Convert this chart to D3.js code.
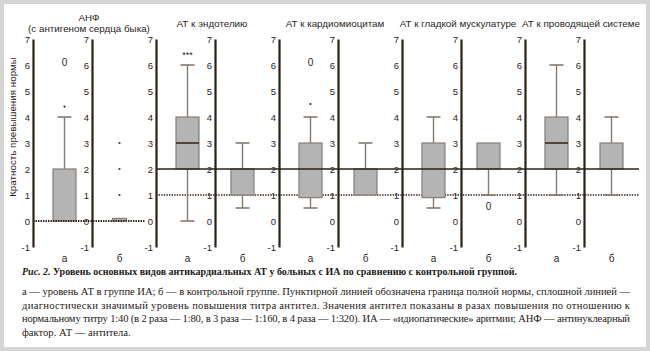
<!DOCTYPE html>
<html><head><meta charset="utf-8">
<script src="https://cdn.jsdelivr.net/npm/d3@7/dist/d3.min.js"></script>
<style>
body{margin:0;background:#fff;}
svg{display:block;}
</style></head>
<body>
<svg id="c" width="650" height="351"></svg>
<script>
// ---- data ----
const panelTitles = [["АНФ","(с антигеном сердца быка)"],["АТ к эндотелию"],["АТ к кардиомиоцитам"],["АТ к гладкой мускулатуре"],["АТ к проводящей системе"]];
const groups = ["а","б"];
const whiskerLow  = [[null,null],[0,0.5],[0.5,null],[0.5,1],[1,1]];
const q1          = [[0,0],[2,1],[0.9,1],[0.9,2],[2,2]];
const median      = [[null,null],[3,null],[null,null],[null,null],[3,null]];
const q3          = [[2,0.1],[4,2],[3,2],[3,3],[4,3]];
const whiskerHigh = [[4,null],[6,3],[4,3],[4,null],[6,4]];
const outlierPanel = [0,0,0,0,2];
const outlierGroup = ["а","б","б","б","а"];
const outlierValue = [4.4,1,2,3,4.5];
const notePanel = [0,1,2,3];
const noteGroup = ["а","а","а","б"];
const noteValue = [6.1,6.45,6.1,0.55];
const noteText  = ["0","***","0","0"];
const yTicks = [-1,0,1,2,3,4,5,6,7];
const yLabel = "Кратность превышения нормы";
const captionTitleItalic = "Рис. 2.";
const captionTitle = " Уровень основных видов антикардиальных АТ у больных с ИА по сравнению с контрольной группой.";
const captionLines = [
 "а — уровень АТ в группе ИА; б — в контрольной группе. Пунктирной линией обозначена граница полной нормы, сплошной линией —",
 "диагностически значимый уровень повышения титра антител. Значения антител показаны в разах повышения по отношению к",
 "нормальному титру 1:40 (в 2 раза — 1:80, в 3 раза — 1:160, в 4 раза — 1:320). ИА — «идиопатические» аритмии; АНФ — антинуклеарный",
 "фактор. АТ — антитела."
];

// ---- layout ----
const svg = d3.select("#c");
const ink = "#2b2118";
svg.append("rect").attr("x",2).attr("y",2).attr("width",646).attr("height",347)
  .attr("fill","#fff").attr("stroke","#d5d5d5").attr("stroke-width",4);

const px = d3.scaleBand().domain(d3.range(5)).range([33,648]);
const gx = d3.scaleBand().domain(groups).range([4,114]);
const y = d3.scaleLinear().domain([-1,7]).range([247,39]);
const boxW = 23, capW = 14;
const cx = (p,g) => px(p) + gx(g) + gx.bandwidth()/2;

// reference lines (dotted under boxes)
svg.append("line").attr("x1",px(1)).attr("x2",px(4)+114).attr("y1",y(1)).attr("y2",y(1))
  .attr("stroke",ink).attr("stroke-width",1.6).attr("stroke-dasharray","1.4,1.2");

// boxes
const gBox = svg.append("g");
for (let p=0;p<5;p++){
  groups.forEach((g,i)=>{
    const c = cx(p,g);
    const wl = whiskerLow[p][i], wh = whiskerHigh[p][i];
    const wc = "#857a70";
    const bw = (q3[p][i]-q1[p][i] < 0.3) ? 14 : boxW;
    if (wh!==null){
      gBox.append("line").attr("x1",c).attr("x2",c).attr("y1",y(q3[p][i])).attr("y2",y(wh)).attr("stroke",wc).attr("stroke-width",1.4);
      gBox.append("line").attr("x1",c-capW/2).attr("x2",c+capW/2).attr("y1",y(wh)).attr("y2",y(wh)).attr("stroke",wc).attr("stroke-width",1.6);
    }
    if (wl!==null){
      gBox.append("line").attr("x1",c).attr("x2",c).attr("y1",y(q1[p][i])).attr("y2",y(wl)).attr("stroke",wc).attr("stroke-width",1.4);
      gBox.append("line").attr("x1",c-capW/2).attr("x2",c+capW/2).attr("y1",y(wl)).attr("y2",y(wl)).attr("stroke",wc).attr("stroke-width",1.6);
    }
    gBox.append("rect").attr("x",c-bw/2).attr("width",bw)
      .attr("y",y(q3[p][i])).attr("height",y(q1[p][i])-y(q3[p][i]))
      .attr("fill","#b4b4b4").attr("stroke","#857d76").attr("stroke-width",1.2);
    if (median[p][i]!==null){
      gBox.append("line").attr("x1",c-bw/2).attr("x2",c+bw/2).attr("y1",y(median[p][i])).attr("y2",y(median[p][i]))
        .attr("stroke","#3a2a1c").attr("stroke-width",1.6);
    }
  });
}

// solid line at 2 and zero dotted line in panel 1 (above boxes)
svg.append("line").attr("x1",px(1)).attr("x2",px(4)+114).attr("y1",y(2)).attr("y2",y(2))
  .attr("stroke",ink).attr("stroke-width",1.6);
svg.append("line").attr("x1",px(0)).attr("x2",px(0)+112).attr("y1",y(0)).attr("y2",y(0))
  .attr("stroke",ink).attr("stroke-width",1.8).attr("stroke-dasharray","1.4,1.1");

// axes
for (let p=0;p<5;p++){
  [0, gx("б")].forEach(off=>{
    const a = svg.append("g").attr("transform",`translate(${px(p)+off},0)`)
      .call(d3.axisLeft(y).tickValues(yTicks).tickFormat(d => String(d)).tickSizeInner(0).tickSizeOuter(0).tickPadding(3));
    a.select(".domain").attr("stroke",ink).attr("stroke-width",2.2);
    a.selectAll("text").attr("fill","#2a2420").style("font-family","Liberation Sans, Arial, sans-serif").style("font-size","9.5px");
  });
}

// outliers and notes
outlierValue.forEach((v,k)=>{
  svg.append("circle").attr("cx",cx(outlierPanel[k],outlierGroup[k])).attr("cy",y(v)).attr("r",1.1).attr("fill","#3a3028");
});
noteValue.forEach((v,k)=>{
  svg.append("text").attr("x",cx(notePanel[k],noteGroup[k])).attr("y",y(v)).attr("dy",noteText[k]==="***"?"0.55em":"0.35em")
    .attr("text-anchor","middle").attr("fill","#2a2420")
    .style("font-family","Liberation Sans, Arial, sans-serif").style("font-size",noteText[k]==="***"?"9px":"10px")
    .text(noteText[k]);
});

// group labels
for (let p=0;p<5;p++){
  groups.forEach(g=>{
    svg.append("text").attr("x",cx(p,g)).attr("y",262).attr("text-anchor","middle").attr("fill","#2a2420")
      .style("font-family","Liberation Sans, Arial, sans-serif").style("font-size","10px").text(g);
  });
}

// panel titles
panelTitles.forEach((t,p)=>{
  const tx = px(p)+56;
  t.forEach((line,j)=>{
    const ty = t.length===2 ? 21+j*10.5 : 27;
    svg.append("text").attr("x",tx).attr("y",ty).attr("text-anchor","middle").attr("fill","#2a2420")
      .style("font-family","Liberation Sans, Arial, sans-serif").style("font-size","9.8px").text(line);
  });
});

// y label
svg.append("text").attr("transform","translate(16,127) rotate(-90)").attr("text-anchor","middle").attr("fill","#2a2420")
  .style("font-family","Liberation Sans, Arial, sans-serif").style("font-size","9.8px").text(yLabel);

// caption
const cap = svg.append("text").attr("x",22).attr("y",275).attr("fill","#1e1a16")
  .style("font-family","Liberation Serif, Times New Roman, serif").style("font-size","10.8px").style("font-weight","bold")
  .attr("textLength",495).attr("lengthAdjust","spacingAndGlyphs");
cap.append("tspan").style("font-style","italic").text(captionTitleItalic);
cap.append("tspan").text(captionTitle);

captionLines.forEach((line,i)=>{
  const t = svg.append("text").attr("x",22).attr("y",295+i*13.6).attr("fill","#1e1a16")
    .style("font-family","Liberation Serif, Times New Roman, serif").style("font-size","10.6px").text(line);
  if (i<3) t.attr("textLength",608).attr("lengthAdjust","spacing");
});
</script>
</body></html>
